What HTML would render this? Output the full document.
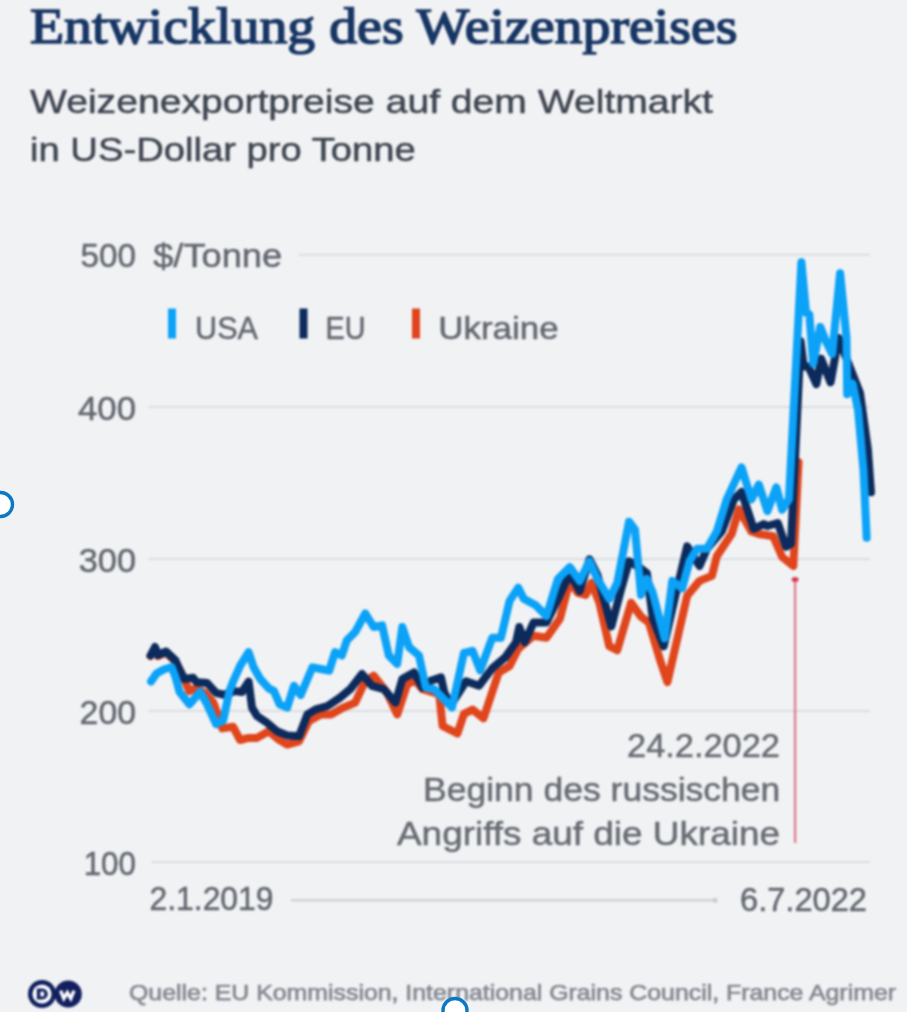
<!DOCTYPE html>
<html><head><meta charset="utf-8"><style>
html,body{margin:0;padding:0;background:#f1f2f4;}
svg{display:block;filter:blur(1px);}
.ov{position:absolute;left:0;top:0;filter:none;}
</style></head><body>
<svg width="907" height="1012" viewBox="0 0 907 1012">
<rect width="907" height="1012" fill="#f1f2f4"/>
<line x1="298.6" y1="254.7" x2="870" y2="254.7" stroke="#dcdde1" stroke-width="2"/><line x1="148.7" y1="407" x2="870" y2="407" stroke="#dcdde1" stroke-width="2"/><line x1="148.7" y1="559" x2="870" y2="559" stroke="#dcdde1" stroke-width="2"/><line x1="148.7" y1="711" x2="870" y2="711" stroke="#dcdde1" stroke-width="2"/><line x1="151.7" y1="862" x2="870" y2="862" stroke="#dcdde1" stroke-width="2"/>
<line x1="290.8" y1="900.3" x2="715" y2="900.3" stroke="#c9cbcf" stroke-width="2"/>
<circle cx="715" cy="900.3" r="2.5" fill="#c9cbcf"/>
<line x1="795.1" y1="580" x2="795.1" y2="843" stroke="#e07a8e" stroke-width="2.3"/>
<ellipse cx="795.1" cy="579.6" rx="3.5" ry="2.5" fill="#d83a52"/>
<polyline points="150.5,656.0 155.0,648.5 158.0,656.0 166.0,652.5 175.5,661.5 181.5,673.0 189.4,691.1 195.7,688.4 205.0,693.0 213.4,702.7 217.9,715.1 222.3,728.4 233.0,726.7 240.1,740.0 248.6,737.9 257.0,737.9 268.7,731.2 278.8,739.6 287.2,744.6 299.0,741.3 309.0,721.0 320.8,714.4 331.0,714.4 343.4,707.6 355.2,702.6 365.3,680.8 373.7,675.7 387.0,692.5 397.2,714.4 407.3,684.0 415.7,680.8 422.4,689.2 439.2,694.2 442.6,726.0 457.4,733.5 463.9,713.9 472.6,709.6 483.5,718.3 498.7,672.6 509.6,666.0 518.3,648.7 533.5,635.7 546.5,637.8 559.9,618.6 569.8,581.0 577.7,592.9 585.6,594.9 591.5,583.0 599.4,602.8 609.3,646.3 617.2,650.3 631.1,602.8 641.0,616.6 648.9,622.6 660.7,662.1 667.4,682.1 679.8,627.8 687.2,595.7 699.5,580.9 711.9,575.9 716.8,556.2 731.6,534.0 739.0,509.3 751.4,531.5 758.8,534.0 773.3,536.3 782.2,557.0 793.3,566.0 798.5,462.2" fill="none" stroke="#e0451c" stroke-width="8" stroke-linejoin="round" stroke-linecap="round"/>
<polyline points="150.5,655.5 155.0,647.0 158.0,655.0 166.0,651.5 175.5,660.5 179.5,669.5 184.3,679.0 193.0,677.8 196.6,682.2 207.2,683.1 216.1,692.9 223.2,694.7 234.8,691.1 241.9,692.0 248.6,681.6 252.0,707.6 257.0,716.0 267.0,722.8 277.0,731.2 287.2,735.4 299.0,736.2 307.4,714.4 315.8,709.3 327.6,706.0 340.0,697.6 350.2,689.2 362.0,674.0 372.0,685.8 383.8,689.2 395.5,702.6 402.3,679.0 414.0,672.4 422.4,687.5 430.8,680.8 441.0,677.4 444.3,692.5 450.9,705.2 466.0,681.3 479.1,685.7 492.2,668.3 505.2,657.4 516.0,642.2 519.3,627.0 524.8,642.2 533.5,622.6 546.5,622.6 559.9,594.9 569.8,573.2 579.7,591.0 589.5,559.3 597.4,575.1 611.3,626.5 621.2,589.0 629.0,561.3 639.0,567.2 646.9,573.2 652.8,618.6 663.7,646.3 674.8,598.1 687.2,546.3 699.5,566.0 706.9,548.8 721.7,531.5 734.0,499.4 741.5,492.0 753.8,529.0 763.7,524.0 767.4,526.0 777.8,523.0 786.0,546.7 791.0,543.7 800.6,341.3 803.7,366.6 808.5,366.6 816.4,384.0 821.1,358.7 830.6,382.4 838.5,338.0 849.0,365.0 860.0,393.0 867.8,448.7 871.0,492.2" fill="none" stroke="#0c2b5c" stroke-width="8" stroke-linejoin="round" stroke-linecap="round"/>
<polyline points="151.0,681.5 156.5,673.5 163.7,669.5 171.6,667.0 175.6,677.4 179.5,691.7 189.4,704.4 200.1,692.0 206.3,702.7 216.1,724.0 223.2,720.4 229.4,691.1 233.4,680.8 240.2,665.6 248.6,652.2 253.6,667.3 260.3,679.0 268.7,688.3 273.8,690.8 279.7,704.3 287.2,707.6 294.0,685.8 300.7,695.0 312.4,667.3 320.8,669.0 329.2,670.7 335.0,652.2 341.8,655.5 346.8,640.4 355.2,632.0 365.3,613.5 373.7,627.0 382.1,625.3 388.8,655.5 397.2,664.0 402.3,627.0 409.0,647.1 419.0,655.5 425.8,687.5 434.2,689.2 452.0,707.4 463.9,653.0 472.6,650.9 480.2,670.4 492.2,637.8 500.9,637.8 509.6,600.9 518.3,587.8 523.7,598.7 535.7,605.2 546.5,616.1 557.9,579.0 569.8,567.2 579.7,581.0 589.5,561.3 597.4,579.0 609.3,598.9 617.2,583.0 629.0,521.7 635.0,529.7 641.0,594.9 646.9,579.0 652.8,592.9 664.7,638.4 672.3,580.9 682.2,588.3 689.6,561.1 697.0,548.8 706.9,548.8 716.8,531.5 726.7,499.4 741.5,467.3 751.4,499.4 758.8,484.6 767.4,511.1 776.3,487.4 782.2,509.6 788.9,499.3 801.4,262.2 806.1,312.8 809.3,314.4 813.2,363.4 820.3,327.0 825.9,341.3 832.2,354.0 840.1,273.2 846.5,338.0 847.2,394.3 852.6,383.5 858.0,409.6 863.5,470.4 866.7,537.8" fill="none" stroke="#0ba2f7" stroke-width="8" stroke-linejoin="round" stroke-linecap="round"/>
<rect x="168" y="308.5" width="8" height="30" fill="#0ba2f7"/>
<rect x="299.5" y="308.5" width="8" height="30" fill="#0c2b5c"/>
<rect x="412" y="308.5" width="8" height="30" fill="#e0451c"/>
<text x="30" y="43" font-size="51" fill="#183664" text-anchor="start" font-weight="normal" font-family='"Liberation Serif", serif' textLength="707.5" lengthAdjust="spacingAndGlyphs" stroke="#183664" stroke-width="1.6">Entwicklung des Weizenpreises</text><text x="30" y="112.5" font-size="34" fill="#3e4550" text-anchor="start" font-weight="normal" font-family='"Liberation Sans", sans-serif' textLength="683" lengthAdjust="spacingAndGlyphs" stroke="#3e4550" stroke-width="0.5">Weizenexportpreise auf dem Weltmarkt</text><text x="30" y="160.5" font-size="34" fill="#3e4550" text-anchor="start" font-weight="normal" font-family='"Liberation Sans", sans-serif' textLength="385.8" lengthAdjust="spacingAndGlyphs" stroke="#3e4550" stroke-width="0.5">in US-Dollar pro Tonne</text><text x="136" y="267.2" font-size="33" fill="#62676f" text-anchor="end" font-weight="normal" font-family='"Liberation Sans", sans-serif' textLength="55.5" lengthAdjust="spacingAndGlyphs" stroke="#62676f" stroke-width="0.5">500</text><text x="136" y="419.5" font-size="33" fill="#62676f" text-anchor="end" font-weight="normal" font-family='"Liberation Sans", sans-serif' textLength="58" lengthAdjust="spacingAndGlyphs" stroke="#62676f" stroke-width="0.5">400</text><text x="136" y="571.5" font-size="33" fill="#62676f" text-anchor="end" font-weight="normal" font-family='"Liberation Sans", sans-serif' textLength="57.2" lengthAdjust="spacingAndGlyphs" stroke="#62676f" stroke-width="0.5">300</text><text x="136" y="723.5" font-size="33" fill="#62676f" text-anchor="end" font-weight="normal" font-family='"Liberation Sans", sans-serif' textLength="56.4" lengthAdjust="spacingAndGlyphs" stroke="#62676f" stroke-width="0.5">200</text><text x="136" y="874.5" font-size="33" fill="#62676f" text-anchor="end" font-weight="normal" font-family='"Liberation Sans", sans-serif' textLength="52.3" lengthAdjust="spacingAndGlyphs" stroke="#62676f" stroke-width="0.5">100</text><text x="153.2" y="267.3" font-size="33" fill="#62676f" text-anchor="start" font-weight="normal" font-family='"Liberation Sans", sans-serif' textLength="129" lengthAdjust="spacingAndGlyphs" stroke="#62676f" stroke-width="0.5">$/Tonne</text><text x="195" y="339" font-size="32" fill="#62676f" text-anchor="start" font-weight="normal" font-family='"Liberation Sans", sans-serif' textLength="63" lengthAdjust="spacingAndGlyphs" stroke="#62676f" stroke-width="0.5">USA</text><text x="325.5" y="339" font-size="32" fill="#62676f" text-anchor="start" font-weight="normal" font-family='"Liberation Sans", sans-serif' textLength="40" lengthAdjust="spacingAndGlyphs" stroke="#62676f" stroke-width="0.5">EU</text><text x="438.2" y="339" font-size="32" fill="#62676f" text-anchor="start" font-weight="normal" font-family='"Liberation Sans", sans-serif' textLength="120.4" lengthAdjust="spacingAndGlyphs" stroke="#62676f" stroke-width="0.5">Ukraine</text><text x="149.5" y="909.5" font-size="33" fill="#62676f" text-anchor="start" font-weight="normal" font-family='"Liberation Sans", sans-serif' textLength="124" lengthAdjust="spacingAndGlyphs" stroke="#62676f" stroke-width="0.5">2.1.2019</text><text x="740" y="910.5" font-size="33" fill="#62676f" text-anchor="start" font-weight="normal" font-family='"Liberation Sans", sans-serif' textLength="127" lengthAdjust="spacingAndGlyphs" stroke="#62676f" stroke-width="0.5">6.7.2022</text><text x="627" y="757" font-size="33" fill="#676c73" text-anchor="start" font-weight="normal" font-family='"Liberation Sans", sans-serif' textLength="153" lengthAdjust="spacingAndGlyphs" stroke="#676c73" stroke-width="0.5">24.2.2022</text><text x="423" y="801" font-size="33" fill="#676c73" text-anchor="start" font-weight="normal" font-family='"Liberation Sans", sans-serif' textLength="357.3" lengthAdjust="spacingAndGlyphs" stroke="#676c73" stroke-width="0.5">Beginn des russischen</text><text x="397" y="845" font-size="33" fill="#676c73" text-anchor="start" font-weight="normal" font-family='"Liberation Sans", sans-serif' textLength="383" lengthAdjust="spacingAndGlyphs" stroke="#676c73" stroke-width="0.5">Angriffs auf die Ukraine</text><text x="129" y="999.5" font-size="22" fill="#868a91" text-anchor="start" font-weight="normal" font-family='"Liberation Sans", sans-serif' textLength="767" lengthAdjust="spacingAndGlyphs" stroke="#868a91" stroke-width="0.75">Quelle: EU Kommission, International Grains Council, France Agrimer</text>
<g>
<circle cx="42" cy="994" r="14" fill="#111f5e"/>
<circle cx="42" cy="994" r="9.6" fill="#ffffff"/>
<path d="M36.8,988.6 h5.6 a5.4,5.4 0 0 1 0,10.8 h-5.6 z" fill="#111f5e"/>
<rect x="40.3" y="991.6" width="3.8" height="4.8" fill="#ffffff"/>
<circle cx="68.2" cy="994" r="13.6" fill="#111f5e"/>
<polyline points="60.6,990.6 63.8,998.6 67.3,992.6 70.8,998.6 74,990.6" fill="none" stroke="#ffffff" stroke-width="3.3" stroke-linejoin="miter"/>
</g>
</svg>
<svg class="ov" width="907" height="1012" viewBox="0 0 907 1012">
<circle cx="0.5" cy="504.5" r="12" fill="#ffffff" stroke="#0a78c2" stroke-width="3.4"/>
<circle cx="455" cy="1010.5" r="12" fill="#ffffff" stroke="#0a78c2" stroke-width="3.4"/>
</svg>
</body></html>
